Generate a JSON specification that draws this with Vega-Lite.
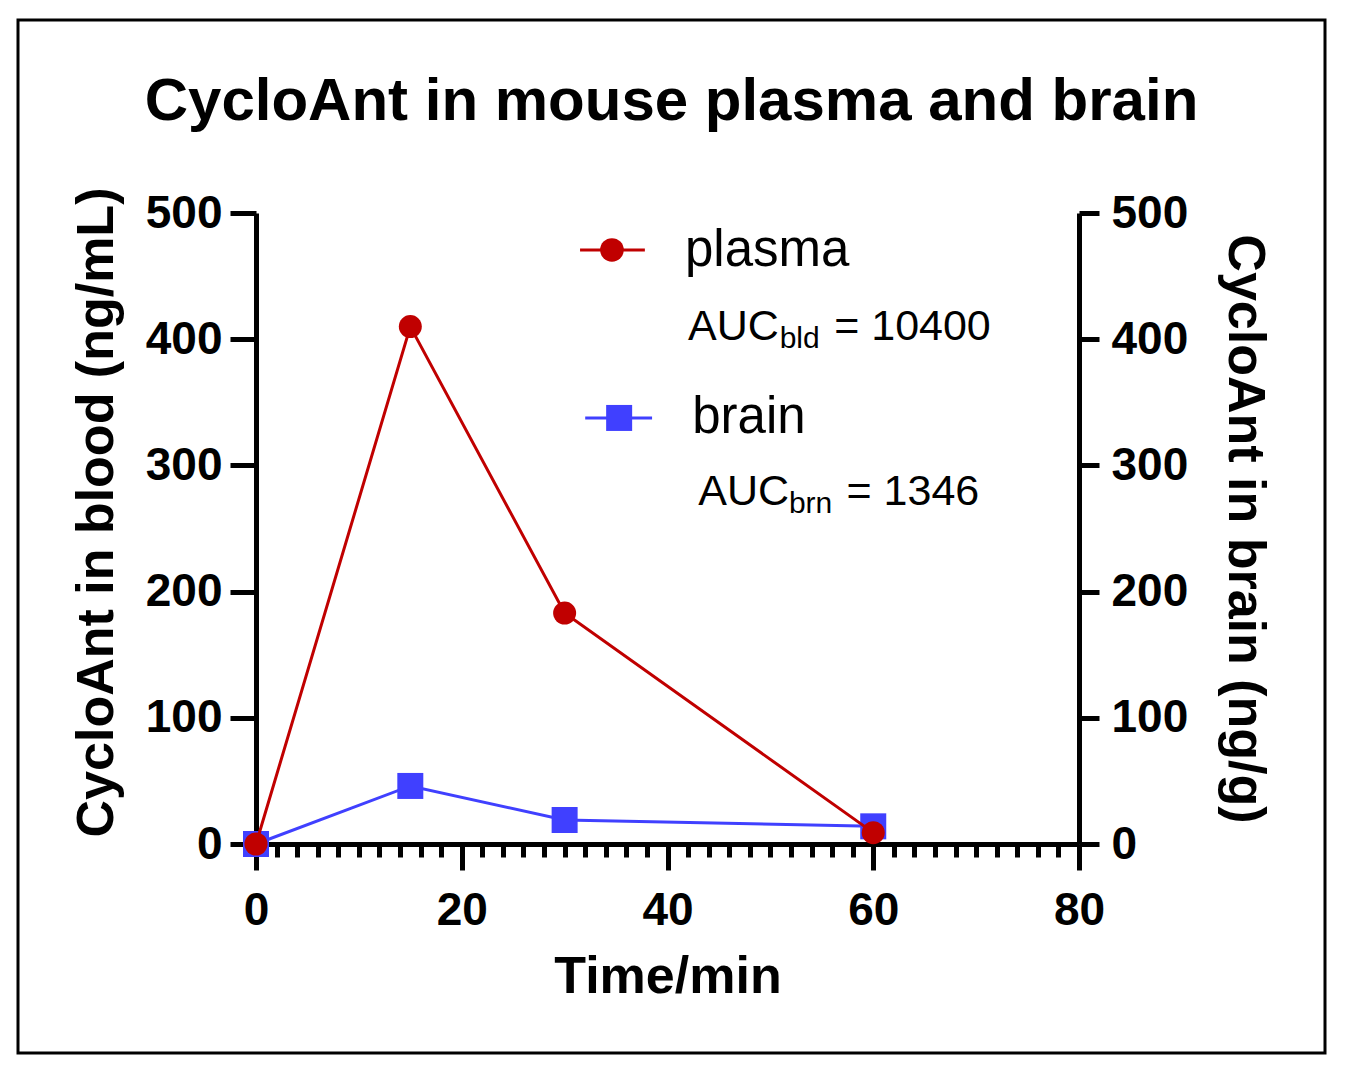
{
  "$schema": "https://vega.github.io/schema/vega-lite/v6.json",
  "width": 1307,
  "height": 1033,
  "autosize": {"type": "none"},
  "padding": {"left": 18, "top": 20, "right": 20, "bottom": 21},
  "background": "white",
  "title": {
    "text": "CycloAnt in mouse plasma and brain",
    "font": "Liberation Sans",
    "fontSize": 60,
    "fontWeight": "bold",
    "color": "black",
    "anchor": "middle",
    "frame": "group",
    "baseline": "alphabetic",
    "offset": -160
  },
  "config": {
    "view": {"stroke": "black", "strokeWidth": 3},
    "axis": {
      "grid": false,
      "domainColor": "black",
      "domainWidth": 5,
      "tickColor": "black",
      "tickWidth": 5,
      "labelColor": "black",
      "labelFont": "Liberation Sans",
      "labelFontSize": 46,
      "labelFontWeight": "bold",
      "labelFlush": false,
      "labelOverlap": false,
      "titleColor": "black",
      "titleFont": "Liberation Sans",
      "titleFontSize": 52,
      "titleFontWeight": "bold"
    }
  },
  "data": {
    "values": [
      {"series": "plasma", "time": 0, "conc": 0},
      {"series": "plasma", "time": 15, "conc": 410},
      {"series": "plasma", "time": 30, "conc": 183},
      {"series": "plasma", "time": 60, "conc": 9},
      {"series": "brain", "time": 0, "conc": 0},
      {"series": "brain", "time": 15, "conc": 46},
      {"series": "brain", "time": 30, "conc": 19},
      {"series": "brain", "time": 60, "conc": 14}
    ]
  },
  "layer": [
    {
      "transform": [{"filter": "datum.series === 'brain'"}],
      "encoding": {
        "x": {
          "field": "time",
          "type": "quantitative",
          "scale": {"domain": [0, 80], "range": [238, 1061]},
          "axis": {
            "orient": "bottom",
            "offset": -209,
            "values": [2, 4, 6, 8, 10, 12, 14, 16, 18, 22, 24, 26, 28, 30, 32, 34, 36, 38, 42, 44, 46, 48, 50, 52, 54, 56, 58, 62, 64, 66, 68, 70, 72, 74, 76, 78],
            "tickSize": 13,
            "domain": false,
            "labels": false,
            "title": null
          }
        },
        "y": {
          "field": "conc",
          "type": "quantitative",
          "scale": {"domain": [0, 500], "range": [824, 193]},
          "axis": {
            "orient": "right",
            "offset": -246,
            "values": [0, 100, 200, 300, 400, 500],
            "tickSize": 20,
            "labelPadding": 12,
            "title": "CycloAnt in brain (ng/g)",
            "titlePadding": 30
          }
        }
      },
      "layer": [
        {"mark": {"type": "line", "color": "#4040ff", "strokeWidth": 3}},
        {"mark": {"type": "point", "shape": "square", "filled": true, "color": "#4040ff", "opacity": 1, "size": 676}}
      ]
    },
    {
      "transform": [{"filter": "datum.series === 'plasma'"}],
      "encoding": {
        "x": {
          "field": "time",
          "type": "quantitative",
          "scale": {"domain": [0, 80], "range": [238, 1061]},
          "axis": {
            "orient": "bottom",
            "offset": -209,
            "values": [0, 20, 40, 60, 80],
            "tickSize": 26,
            "labelPadding": 18,
            "title": "Time/min",
            "titlePadding": 18
          }
        },
        "y": {
          "field": "conc",
          "type": "quantitative",
          "scale": {"domain": [0, 500], "range": [824, 193]},
          "axis": {
            "orient": "left",
            "offset": -238,
            "values": [0, 100, 200, 300, 400, 500],
            "tickSize": 26,
            "labelPadding": 8,
            "title": "CycloAnt in blood (ng/mL)",
            "titlePadding": 22,
            "titleY": 492
          }
        }
      },
      "layer": [
        {"mark": {"type": "line", "color": "#c00000", "strokeWidth": 3}},
        {"mark": {"type": "point", "shape": "circle", "filled": true, "color": "#c00000", "opacity": 1, "size": 530}},
        {
          "transform": [{"filter": "datum.time === 0"}],
          "mark": {"type": "rule", "color": "#c00000", "strokeWidth": 3},
          "encoding": {"x": {"datum": 31.5}, "x2": {"datum": 37.8}, "y": {"datum": 470.7}}
        },
        {
          "transform": [{"filter": "datum.time === 0"}],
          "mark": {"type": "point", "shape": "circle", "filled": true, "color": "#c00000", "opacity": 1, "size": 560},
          "encoding": {"x": {"datum": 34.6}, "y": {"datum": 470.7}}
        },
        {
          "transform": [{"filter": "datum.time === 0"}],
          "mark": {"type": "rule", "color": "#4040ff", "strokeWidth": 3},
          "encoding": {"x": {"datum": 32.0}, "x2": {"datum": 38.5}, "y": {"datum": 337.6}}
        },
        {
          "transform": [{"filter": "datum.time === 0"}],
          "mark": {"type": "point", "shape": "square", "filled": true, "color": "#4040ff", "opacity": 1, "size": 676},
          "encoding": {"x": {"datum": 35.3}, "y": {"datum": 337.6}}
        },
        {
          "transform": [{"filter": "datum.time === 0"}],
          "mark": {"type": "text", "text": "plasma", "font": "Liberation Sans", "fontSize": 51, "align": "left", "baseline": "alphabetic", "color": "black"},
          "encoding": {"x": {"datum": 41.7}, "y": {"datum": 458.0}}
        },
        {
          "transform": [{"filter": "datum.time === 0"}],
          "mark": {"type": "text", "text": "brain", "font": "Liberation Sans", "fontSize": 51, "align": "left", "baseline": "alphabetic", "color": "black"},
          "encoding": {"x": {"datum": 42.4}, "y": {"datum": 325.7}}
        },
        {
          "transform": [{"filter": "datum.time === 0"}],
          "mark": {"type": "text", "text": "AUC", "font": "Liberation Sans", "fontSize": 43, "align": "left", "baseline": "alphabetic", "color": "black"},
          "encoding": {"x": {"datum": 42.0}, "y": {"datum": 399.4}}
        },
        {
          "transform": [{"filter": "datum.time === 0"}],
          "mark": {"type": "text", "text": "bld", "font": "Liberation Sans", "fontSize": 30, "align": "left", "baseline": "alphabetic", "color": "black"},
          "encoding": {"x": {"datum": 50.9}, "y": {"datum": 393.0}}
        },
        {
          "transform": [{"filter": "datum.time === 0"}],
          "mark": {"type": "text", "text": "= 10400", "font": "Liberation Sans", "fontSize": 43, "align": "left", "baseline": "alphabetic", "color": "black"},
          "encoding": {"x": {"datum": 56.2}, "y": {"datum": 399.4}}
        },
        {
          "transform": [{"filter": "datum.time === 0"}],
          "mark": {"type": "text", "text": "AUC", "font": "Liberation Sans", "fontSize": 43, "align": "left", "baseline": "alphabetic", "color": "black"},
          "encoding": {"x": {"datum": 43.0}, "y": {"datum": 268.6}}
        },
        {
          "transform": [{"filter": "datum.time === 0"}],
          "mark": {"type": "text", "text": "brn", "font": "Liberation Sans", "fontSize": 30, "align": "left", "baseline": "alphabetic", "color": "black"},
          "encoding": {"x": {"datum": 51.8}, "y": {"datum": 262.3}}
        },
        {
          "transform": [{"filter": "datum.time === 0"}],
          "mark": {"type": "text", "text": "= 1346", "font": "Liberation Sans", "fontSize": 43, "align": "left", "baseline": "alphabetic", "color": "black"},
          "encoding": {"x": {"datum": 57.4}, "y": {"datum": 268.6}}
        }
      ]
    }
  ],
  "resolve": {
    "scale": {"y": "independent"},
    "axis": {"x": "independent", "y": "independent"}
  }
}
